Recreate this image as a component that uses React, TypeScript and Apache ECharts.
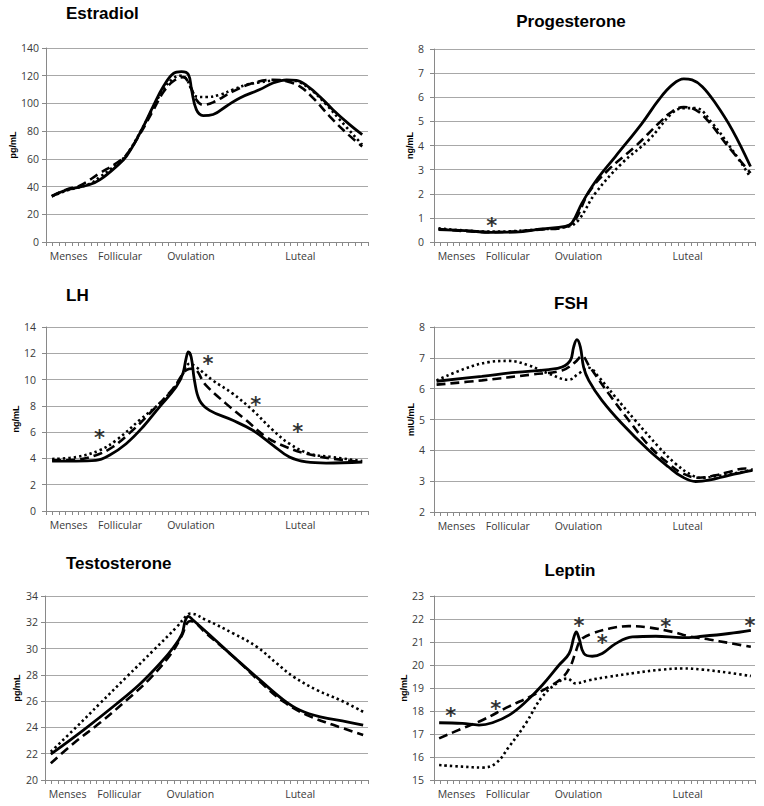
import React, { useEffect, useRef } from 'react';
import * as echarts from 'echarts';

// ---------- data ----------
const TICK_COUNT = 50;
const phaseNames = ['Menses', 'Follicular', 'Ovulation', 'Luteal'];
const phaseSlots = [3, 11, 22, 39];

const panelTitles = ['Estradiol', 'Progesterone', 'LH', 'FSH', 'Testosterone', 'Leptin'];
const panelUnits = ['pg/mL', 'ng/mL', 'ng/mL', 'mIU/mL', 'pg/mL', 'ng/mL'];
const yMins = [0, 0, 0, 2, 20, 15];
const yMaxs = [140, 8, 14, 8, 34, 23];
const ySteps = [20, 1, 2, 1, 2, 1];

// x = position along the cycle (% of axis), y = value
const e2Solid = [[1.8,33],[6.4,37.5],[13.6,41.5],[16.8,45],[21.9,54.6],[25,62],[29.2,78.7],[33.3,98],[36.4,112],[39.5,121.5],[42.1,123],[44.2,121],[45.2,110],[46.7,95.5],[48.8,91.2],[51.9,92],[56,98],[60.2,104],[66.4,110],[70.5,114.7],[74.7,117],[77.8,116.7],[81,112.8],[85,105],[89.1,95.5],[94.3,84.7],[98.2,77.5]];
const e2Dashed = [[1.8,33],[6.4,38],[10.5,40.7],[16.8,49.8],[21.9,57],[25,63],[29.2,78],[33.3,95],[36.4,108],[39.5,116],[42.6,119],[44.5,114],[46.7,102.7],[48.8,99],[51.9,100.8],[58.1,108.7],[64.3,114.7],[70.5,117],[74.7,116],[78.8,112.3],[82.9,104],[88.1,90.7],[93.3,78.7],[98.2,69]];
const e2Dotted = [[1.8,33],[6.4,37],[13.6,42],[16.8,47],[21.9,56],[25,63],[29.2,79],[33.3,97],[36.4,110],[39.5,118],[41.6,120],[43.5,118],[45.2,110],[46.7,105],[49.8,104.6],[54,106.3],[58.1,110],[62.3,113.5],[66.4,115.2],[71.6,116.7],[75.7,116.7],[78.8,115.2],[82.9,108.7],[87.1,99],[91.2,88.3],[98.2,70.2]];
const e2Stars: number[][] = [];

const p4Solid = [[1.4,0.51],[9.7,0.47],[18,0.4],[25.3,0.41],[33.6,0.54],[40.9,0.65],[43,0.79],[46.1,1.61],[50.3,2.51],[56.5,3.54],[64.8,4.92],[70,5.89],[74.2,6.51],[77.8,6.76],[80.4,6.72],[83.6,6.44],[87.7,5.75],[92.9,4.65],[98.6,3.13]];
const p4Dashed = [[1.4,0.54],[18,0.41],[33.6,0.52],[40.9,0.62],[44,0.92],[48.1,2.03],[54.4,3.0],[62.7,3.96],[70,4.92],[74.2,5.41],[77.8,5.59],[81.5,5.48],[85.6,4.99],[90.8,4.1],[98.6,2.86]];
const p4Dotted = [[1.4,0.57],[18,0.43],[33.6,0.53],[42,0.65],[45.1,0.92],[50.3,2.03],[58.6,3.27],[66.9,4.23],[74.2,5.34],[77.8,5.55],[81.5,5.55],[86.7,4.92],[92.9,3.82],[98.1,2.79]];
const p4Stars = [[18,0.86]];

const lhSolid = [[1.9,3.8],[9.3,3.8],[15.5,3.85],[19.7,4.24],[24.9,5.12],[30.1,6.39],[35.2,7.91],[40.4,9.43],[42.5,10.45],[43.5,11.6],[44.2,12.1],[45.1,11.7],[46.1,9.94],[47.7,8.42],[50.8,7.66],[58,6.9],[64.2,6.14],[70.5,5.0],[75.6,4.1],[80.8,3.73],[87,3.65],[98.2,3.73]];
const lhDashed = [[1.9,3.85],[9.3,3.9],[15.5,4.24],[20.7,4.87],[26.9,6.14],[32.1,7.4],[39.4,9.3],[43.5,10.7],[45.6,10.83],[49.7,9.56],[55.9,8.17],[62.2,6.9],[68.4,5.63],[74.6,4.87],[80.8,4.36],[89.1,3.98],[98.2,3.73]];
const lhDotted = [[1.9,3.96],[9.3,4.1],[16.6,4.62],[21.8,5.38],[29,6.9],[36.3,8.42],[41.5,9.94],[44.6,11.2],[46.6,10.96],[51.8,9.94],[58,8.93],[64.2,7.66],[70.5,6.14],[75.6,5.12],[81.9,4.36],[89.1,4.1],[98.2,3.8]];
const lhStars = [[16.6,5.93],[50.3,11.5],[65.1,8.42],[78.2,6.39]];

const fshSolid = [[0.8,6.24],[14.9,6.4],[25.3,6.53],[35.7,6.62],[39.9,6.7],[42.5,6.92],[43.5,7.35],[44.5,7.59],[45.6,7.35],[46.6,6.7],[48.2,6.27],[52.3,5.62],[58.6,4.86],[66.9,4.0],[73.1,3.46],[77.3,3.14],[81.5,2.99],[85.6,3.03],[91.9,3.19],[99.2,3.35]];
const fshDashed = [[0.8,6.13],[14.9,6.27],[30.5,6.46],[39.9,6.59],[44,6.86],[46.1,7.06],[48.2,6.76],[54.4,5.84],[60.7,4.97],[66.9,4.16],[73.1,3.57],[77.3,3.26],[82.5,3.11],[87.7,3.19],[91.9,3.3],[97.1,3.41],[99.2,3.38]];
const fshDotted = [[0.8,6.27],[9.7,6.65],[17,6.86],[23.2,6.9],[29.4,6.76],[35.7,6.49],[41.9,6.29],[45.1,6.49],[48.2,6.68],[51.3,6.38],[56.5,5.73],[62.7,4.97],[70,4.11],[75.2,3.57],[80.4,3.19],[83.5,3.11],[87.7,3.16],[92.9,3.24],[99.2,3.37]];
const fshStars: number[][] = [];

const tSolid = [[1.8,21.97],[11.9,23.8],[22.2,25.8],[29.4,27.3],[35.6,28.86],[39.8,30.1],[42.4,31.1],[43.4,32.1],[44.4,32.45],[45.9,32.15],[52.2,30.76],[58.4,29.37],[66.6,27.6],[73.9,26.08],[79,25.3],[85.2,24.8],[93.5,24.43],[98.5,24.18]];
const tDashed = [[1.8,21.27],[8.8,22.78],[17,24.35],[25.3,26.08],[32.5,27.72],[38.7,29.5],[42.4,31.0],[43.9,31.9],[45,32.1],[50.1,31.1],[58.4,29.37],[66.6,27.47],[73.9,25.95],[81.1,24.94],[89.4,24.18],[98.5,23.42]];
const tDotted = [[1.8,22.15],[9.8,24.05],[17,25.82],[25.3,27.85],[33.6,29.87],[40.8,31.65],[43.9,32.53],[45,32.66],[50.1,32.15],[58.4,31.14],[65.6,30.13],[71.8,28.86],[77,27.85],[84.2,26.84],[91.4,26.08],[98.5,25.19]];
const tStars: number[][] = [];

const lepSolid = [[1.6,17.49],[8.8,17.46],[14,17.39],[18.2,17.49],[23.4,17.82],[28.6,18.4],[33.7,19.12],[38.9,19.99],[42.1,20.5],[43.6,21.22],[44.3,21.44],[45.2,21.15],[46.7,20.5],[49.3,20.38],[52.4,20.5],[56.6,20.93],[61.8,21.22],[69.1,21.25],[77.4,21.19],[83.6,21.25],[91.9,21.37],[98.7,21.51]];
const lepDashed = [[1.6,16.81],[8.8,17.24],[15,17.6],[23.4,18.2],[29.6,18.6],[35.8,19.05],[40,19.45],[42.5,19.95],[44.2,20.6],[45.8,21.1],[49.3,21.37],[54.5,21.58],[60.7,21.69],[67,21.63],[74.3,21.44],[79.4,21.25],[85.7,21.11],[91.9,20.96],[98.7,20.79]];
const lepDotted = [[1.6,15.65],[8.8,15.58],[15,15.54],[19.2,15.72],[23.4,16.45],[28.6,17.46],[33.7,18.62],[38.9,19.27],[41.5,19.41],[44.1,19.2],[48.3,19.34],[54.5,19.49],[62.8,19.66],[71.1,19.8],[77.4,19.85],[83.6,19.8],[91.9,19.66],[98.7,19.52]];
const lepStars = [[5.2,17.97],[19.2,18.3],[45.2,21.87],[52.4,21.15],[72.2,21.83],[98.4,21.87]];

const solidSeries = [e2Solid, p4Solid, lhSolid, fshSolid, tSolid, lepSolid];
const dashedSeries = [e2Dashed, p4Dashed, lhDashed, fshDashed, tDashed, lepDashed];
const dottedSeries = [e2Dotted, p4Dotted, lhDotted, fshDotted, tDotted, lepDotted];
const starSeries = [e2Stars, p4Stars, lhStars, fshStars, tStars, lepStars];

// ---------- layout ----------
const layout = [
  { grid: { left: 46, top: 48, width: 322, height: 194 }, title: { x: 66, y: 5, align: 'left' }, labelMargin: 7, nameGap: 26 },
  { grid: { left: 434, top: 49, width: 321, height: 193 }, title: { x: 571, y: 13, align: 'center' }, labelMargin: 10, nameGap: 17 },
  { grid: { left: 46, top: 327, width: 322, height: 184 }, title: { x: 66, y: 287, align: 'left' }, labelMargin: 10, nameGap: 26 },
  { grid: { left: 434, top: 327, width: 321, height: 185 }, title: { x: 571, y: 295, align: 'center' }, labelMargin: 9, nameGap: 16 },
  { grid: { left: 45, top: 596, width: 323, height: 184 }, title: { x: 66, y: 555, align: 'left' }, labelMargin: 7, nameGap: 24 },
  { grid: { left: 434, top: 596, width: 321, height: 184 }, title: { x: 570, y: 562, align: 'center' }, labelMargin: 10, nameGap: 16 },
];

const AXIS_GRAY = '#898989';
const GRID_GRAY = '#a8a8a8';
const TEXT_GRAY = '#3a3a3a';
const LABEL_FONT = 'Open Sans';

function buildOption() {
  const categories: string[] = [];
  for (let i = 0; i < TICK_COUNT; i++) {
    const k = phaseSlots.indexOf(i);
    categories.push(k >= 0 ? phaseNames[k] : '');
  }
  const grid: any[] = [];
  const title: any[] = [];
  const xAxis: any[] = [];
  const yAxis: any[] = [];
  const series: any[] = [];
  layout.forEach((L, p) => {
    grid.push({ ...L.grid, containLabel: false });
    title.push({
      text: panelTitles[p],
      left: L.title.x,
      top: L.title.y,
      textAlign: L.title.align,
      padding: 0,
      textStyle: { fontSize: 17, fontWeight: 'bold', color: '#000', fontFamily: 'Liberation Sans' },
    });
    xAxis.push({
      type: 'category',
      gridIndex: p,
      data: categories,
      boundaryGap: true,
      axisLine: { show: true, lineStyle: { color: AXIS_GRAY, width: 1 } },
      axisTick: { show: true, interval: 0, length: 4, lineStyle: { color: AXIS_GRAY } },
      axisLabel: { interval: 0, margin: 8, fontSize: 10.5, color: TEXT_GRAY, fontFamily: LABEL_FONT },
      splitLine: { show: false },
    });
    xAxis.push({ type: 'value', gridIndex: p, min: 0, max: 100, show: false });
    yAxis.push({
      type: 'value',
      gridIndex: p,
      min: yMins[p],
      max: yMaxs[p],
      interval: ySteps[p],
      name: panelUnits[p],
      nameLocation: 'middle',
      nameGap: L.nameGap,
      nameRotate: 90,
      nameTextStyle: { fontSize: 9, fontWeight: 'bold', color: '#000', fontFamily: 'Liberation Sans' },
      axisLine: { show: true, lineStyle: { color: AXIS_GRAY, width: 1 } },
      axisTick: { show: true, length: 4, lineStyle: { color: AXIS_GRAY } },
      axisLabel: { margin: L.labelMargin, fontSize: 10.5, color: TEXT_GRAY, fontFamily: LABEL_FONT },
      splitLine: { show: true, lineStyle: { color: GRID_GRAY, width: 1 } },
    });
    const common = { type: 'line', xAxisIndex: 2 * p + 1, yAxisIndex: p, smooth: 0.4, symbol: 'none', silent: true };
    series.push({ ...common, name: 'dotted-' + p, data: dottedSeries[p], z: 2, lineStyle: { color: '#000', width: 2.6, type: [2.4, 3] } });
    series.push({ ...common, name: 'dashed-' + p, data: dashedSeries[p], z: 3, lineStyle: { color: '#000', width: 2.6, type: [9, 5] } });
    series.push({ ...common, name: 'solid-' + p, data: solidSeries[p], z: 4, lineStyle: { color: '#000', width: 2.8 } });
    if (starSeries[p].length) {
      series.push({
        type: 'scatter',
        name: 'stars-' + p,
        xAxisIndex: 2 * p + 1,
        yAxisIndex: p,
        data: starSeries[p],
        symbolSize: 1,
        silent: true,
        color: '#000',
        itemStyle: { color: '#000' },
        label: {
          show: true,
          formatter: '*',
          position: 'top',
          distance: 0,
          align: 'center',
          verticalAlign: 'middle',
          fontSize: 21,
          fontWeight: 'bold',
          color: '#000',
          textBorderWidth: 0,
          fontFamily: 'DejaVu Sans',
          offset: [0, 5],
        },
        z: 5,
      });
    }
  });
  return { animation: false, backgroundColor: '#ffffff', title, grid, xAxis, yAxis, series };
}

export default function App() {
  const ref = useRef<HTMLDivElement>(null);
  useEffect(() => {
    if (!ref.current) return;
    const chart = echarts.init(ref.current, undefined, { renderer: 'svg' });
    chart.setOption(buildOption() as any);
    return () => chart.dispose();
  }, []);
  return (
    <div
      ref={ref}
      style={{ position: 'fixed', left: 0, top: 0, width: 764, height: 806, background: '#fff' }}
    />
  );
}
